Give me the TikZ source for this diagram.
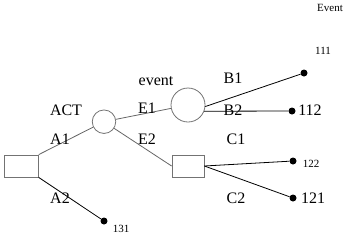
\documentclass[tikz,border=0pt]{standalone}
\usepackage{fontspec}
\setmainfont{Liberation Serif}
\begin{document}
\begin{tikzpicture}[x=1pt,y=-1pt,
  shapeline/.style={draw=black!55, line width=0.8pt},
  decbox/.style={shapeline, rectangle, minimum width=34pt, minimum height=22pt, inner sep=0pt},
  chance/.style={shapeline, circle, inner sep=0pt},
  enddot/.style={circle, fill=black, minimum size=7pt, inner sep=0pt},
  grayline/.style={draw=black!60, line width=0.8pt},
  blackline/.style={draw=black, line width=0.8pt},
  lbl/.style={anchor=base, inner sep=0pt, font=\fontsize{16}{18}\selectfont},
  slbl/.style={anchor=base, inner sep=0pt, font=\fontsize{11}{12}\selectfont}
]
\useasboundingbox (0,0) rectangle (350,239);
% nodes
\node[decbox] (sq) at (21.3,166) {};
\node[chance, minimum size=23.5pt] (c1) at (104,121.7) {};
\node[chance, minimum size=34pt] (c2) at (188,105) {};
\node[decbox, minimum width=32pt] (r2) at (188,166) {};
\node[enddot] (d111) at (304,73) {};
\node[enddot] (d112) at (292,111) {};
\node[enddot] (d122) at (293,161) {};
\node[enddot] (d121) at (293,198) {};
\node[enddot] (d131) at (104,221) {};
% connectors
\draw[grayline] (sq.north east) -- (c1);
\draw[blackline] (sq.south east) -- (d131);
\draw[grayline] (c1) -- (c2);
\draw[grayline] (c1) -- (r2.west);
\draw[blackline] (c2.-5) -- (d111);
\draw[blackline] (c2.-21) -- (d112);
\draw[blackline] (r2.east) -- (d122);
\draw[blackline] (r2.east) -- (d121);
% labels
\node[slbl] (tEvent) at (330,11) {Event};
\node[slbl] (t111) at (323,54) {111};
\node[lbl] (tACT) at (66,115) {ACT};
\node[lbl] (tA1) at (60,144) {A1};
\node[lbl] (tevent) at (156,85) {event};
\node[lbl] (tE1) at (147,113) {E1};
\node[lbl] (tB1) at (233,83) {B1};
\node[lbl] (tB2) at (233,115) {B2};
\node[lbl] (t112) at (310,115) {112};
\node[lbl] (tE2) at (147,144) {E2};
\node[lbl] (tC1) at (236,144) {C1};
\node[lbl] (tC2) at (236,203) {C2};
\node[slbl] (t122) at (311,167) {122};
\node[lbl] (t121) at (313,203) {121};
\node[lbl] (tA2) at (60,203) {A2};
\node[slbl] (t131) at (121,232) {131};
\end{tikzpicture}
\end{document}
